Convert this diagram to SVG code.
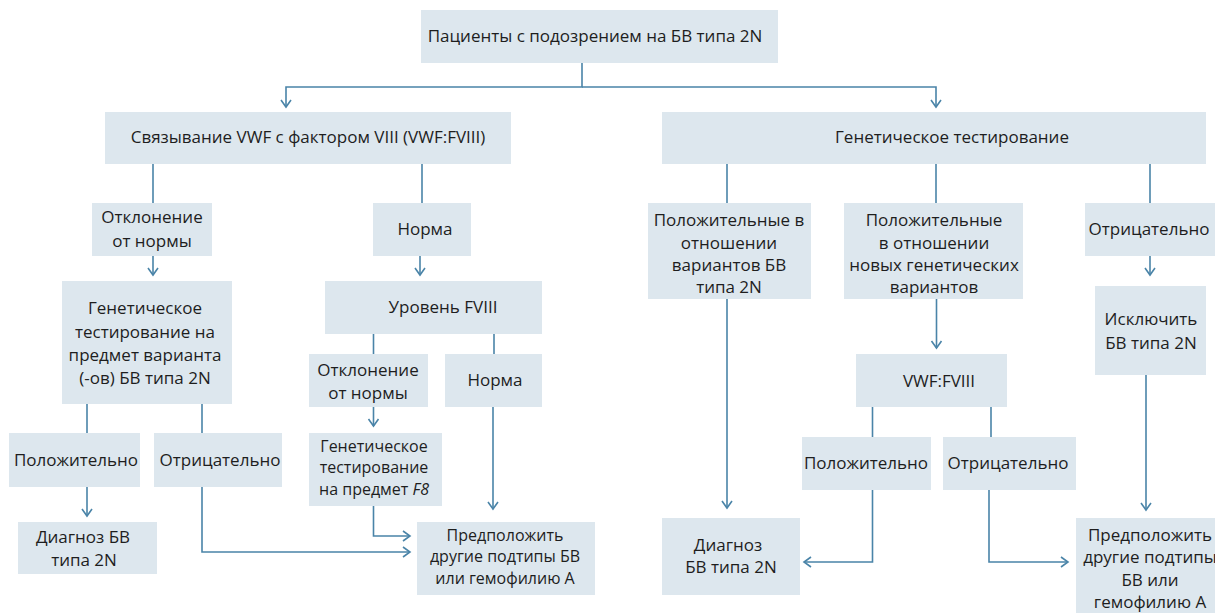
<svg xmlns="http://www.w3.org/2000/svg" width="1215" height="613" viewBox="0 0 1215 613">
<defs>
<style>
.b{fill:#dde7ee;}
.t{font-family:"Open Sans","Noto Sans","Liberation Sans",sans-serif;font-size:17px;fill:#1e1e1e;text-anchor:middle;}
.s{font-size:16px;}
.c{fill:none;stroke:#4a84a8;stroke-width:1.6;}
.a{marker-end:url(#ah);}
</style>
<marker id="ah" viewBox="-9 -7 11 14" markerWidth="11" markerHeight="14" refX="0" refY="0" orient="auto" markerUnits="userSpaceOnUse">
<path d="M-7,-5 L0,0 L-7,5" fill="none" stroke="#4a84a8" stroke-width="1.6"/>
</marker>
</defs>
<rect width="1215" height="613" fill="#ffffff"/>
<g id="connectors">
<path class="c a" d="M582,63 V87 H286 V107"/>
<path class="c a" d="M582,87 H936 V107"/>
<path class="c" d="M153,164 V203"/>
<path class="c" d="M422,164 V203"/>
<path class="c a" d="M153,256 V275"/>
<path class="c a" d="M420,256 V275"/>
<path class="c" d="M373.5,334 V354"/>
<path class="c" d="M494,334 V354"/>
<path class="c" d="M87,404 V433"/>
<path class="c" d="M202,404 V433"/>
<path class="c a" d="M87,487 V516"/>
<path class="c a" d="M202,487 V552 H410"/>
<path class="c a" d="M373.5,407 V426"/>
<path class="c a" d="M373.5,506 V536 H410"/>
<path class="c a" d="M493,407 V509"/>
<path class="c" d="M727,164 V203"/>
<path class="c" d="M936,164 V203"/>
<path class="c" d="M1150,164 V203"/>
<path class="c a" d="M727,299 V508"/>
<path class="c a" d="M936.5,299 V348"/>
<path class="c a" d="M1150,256 V275"/>
<path class="c a" d="M1146,375 V510"/>
<path class="c" d="M872.5,407 V437"/>
<path class="c" d="M991,407 V437"/>
<path class="c a" d="M872.5,490 V562 H804"/>
<path class="c a" d="M989,490 V562 H1068"/>
</g>
<g id="n-top"><rect class="b" x="421" y="10" width="357" height="53"/><text class="t" x="595" y="42">Пациенты с подозрением на БВ типа 2N</text></g>
<g id="n-vwf"><rect class="b" x="105" y="112" width="406" height="52"/><text class="t" x="308" y="143">Связывание VWF с фактором VIII (VWF:FVIII)</text></g>
<g id="n-gen"><rect class="b" x="662" y="112" width="544" height="52"/><text class="t" x="952" y="143">Генетическое тестирование</text></g>
<g id="n-dev1"><rect class="b" x="92" y="203" width="120" height="53"/><text class="t" x="152" y="223">Отклонение</text><text class="t" x="152" y="247">от нормы</text></g>
<g id="n-norm1"><rect class="b" x="373" y="203" width="98" height="53"/><text class="t" x="425" y="235">Норма</text></g>
<g id="n-gentest"><rect class="b" x="62" y="281" width="170" height="123"/><text class="t" x="145" y="314">Генетическое</text><text class="t" x="145" y="338">тестирование на</text><text class="t" x="145" y="361">предмет варианта</text><text class="t" x="145" y="384">(-ов) БВ типа 2N</text></g>
<g id="n-fviii"><rect class="b" x="325" y="281" width="217" height="53"/><text class="t" x="443" y="313">Уровень FVIII</text></g>
<g id="n-dev2"><rect class="b" x="309" y="354" width="119" height="53"/><text class="t" x="368" y="376">Отклонение</text><text class="t" x="368" y="399">от нормы</text></g>
<g id="n-norm2"><rect class="b" x="445" y="354" width="97" height="53"/><text class="t" x="495" y="386">Норма</text></g>
<g id="n-pos1"><rect class="b" x="9" y="433" width="131" height="54"/><text class="t" x="76" y="466">Положительно</text></g>
<g id="n-neg1"><rect class="b" x="154" y="433" width="128" height="54"/><text class="t" x="220" y="466">Отрицательно</text></g>
<g id="n-f8"><rect class="b" x="309" y="433" width="133" height="73"/><text class="t s" x="374" y="452">Генетическое</text><text class="t s" x="374" y="473">тестирование</text><text class="t s" x="374" y="495">на предмет <tspan font-style="italic">F8</tspan></text></g>
<g id="n-diag1"><rect class="b" x="18" y="522" width="139" height="52"/><text class="t" x="83" y="543">Диагноз БВ</text><text class="t" x="84" y="566">типа 2N</text></g>
<g id="n-other1"><rect class="b" x="417" y="522" width="178" height="73"/><text class="t s" x="505" y="541">Предположить</text><text class="t s" x="505" y="562">другие подтипы БВ</text><text class="t s" x="505" y="584">или гемофилию А</text></g>
<g id="n-posvar"><rect class="b" x="648" y="203" width="163" height="96"/><text class="t" x="729" y="226">Положительные в</text><text class="t" x="729" y="249">отношении</text><text class="t" x="729" y="271">вариантов БВ</text><text class="t" x="729" y="293">типа 2N</text></g>
<g id="n-posnew"><rect class="b" x="844" y="203" width="179" height="96"/><text class="t" x="934" y="226">Положительные</text><text class="t" x="934" y="249">в отношении</text><text class="t" x="934" y="271">новых генетических</text><text class="t" x="934" y="293">вариантов</text></g>
<g id="n-neg2"><rect class="b" x="1085" y="203" width="130" height="53"/><text class="t" x="1149" y="235">Отрицательно</text></g>
<g id="n-excl"><rect class="b" x="1095" y="286" width="111" height="89"/><text class="t" x="1151" y="325">Исключить</text><text class="t" x="1151" y="349">БВ типа 2N</text></g>
<g id="n-vwf2"><rect class="b" x="856" y="354" width="151" height="53"/><text class="t" x="939" y="387">VWF:FVIII</text></g>
<g id="n-pos2"><rect class="b" x="802" y="437" width="129" height="53"/><text class="t" x="866" y="469">Положительно</text></g>
<g id="n-neg3"><rect class="b" x="943" y="437" width="133" height="53"/><text class="t" x="1008" y="469">Отрицательно</text></g>
<g id="n-diag2"><rect class="b" x="662" y="518" width="138" height="77"/><text class="t" x="728" y="551">Диагноз</text><text class="t" x="731" y="573">БВ типа 2N</text></g>
<g id="n-other2"><rect class="b" x="1076" y="518" width="145" height="100"/><text class="t" x="1150" y="541">Предположить</text><text class="t" x="1150" y="563">другие подтипы</text><text class="t" x="1150" y="586">БВ или</text><text class="t" x="1150" y="608">гемофилию А</text></g>
</svg>
